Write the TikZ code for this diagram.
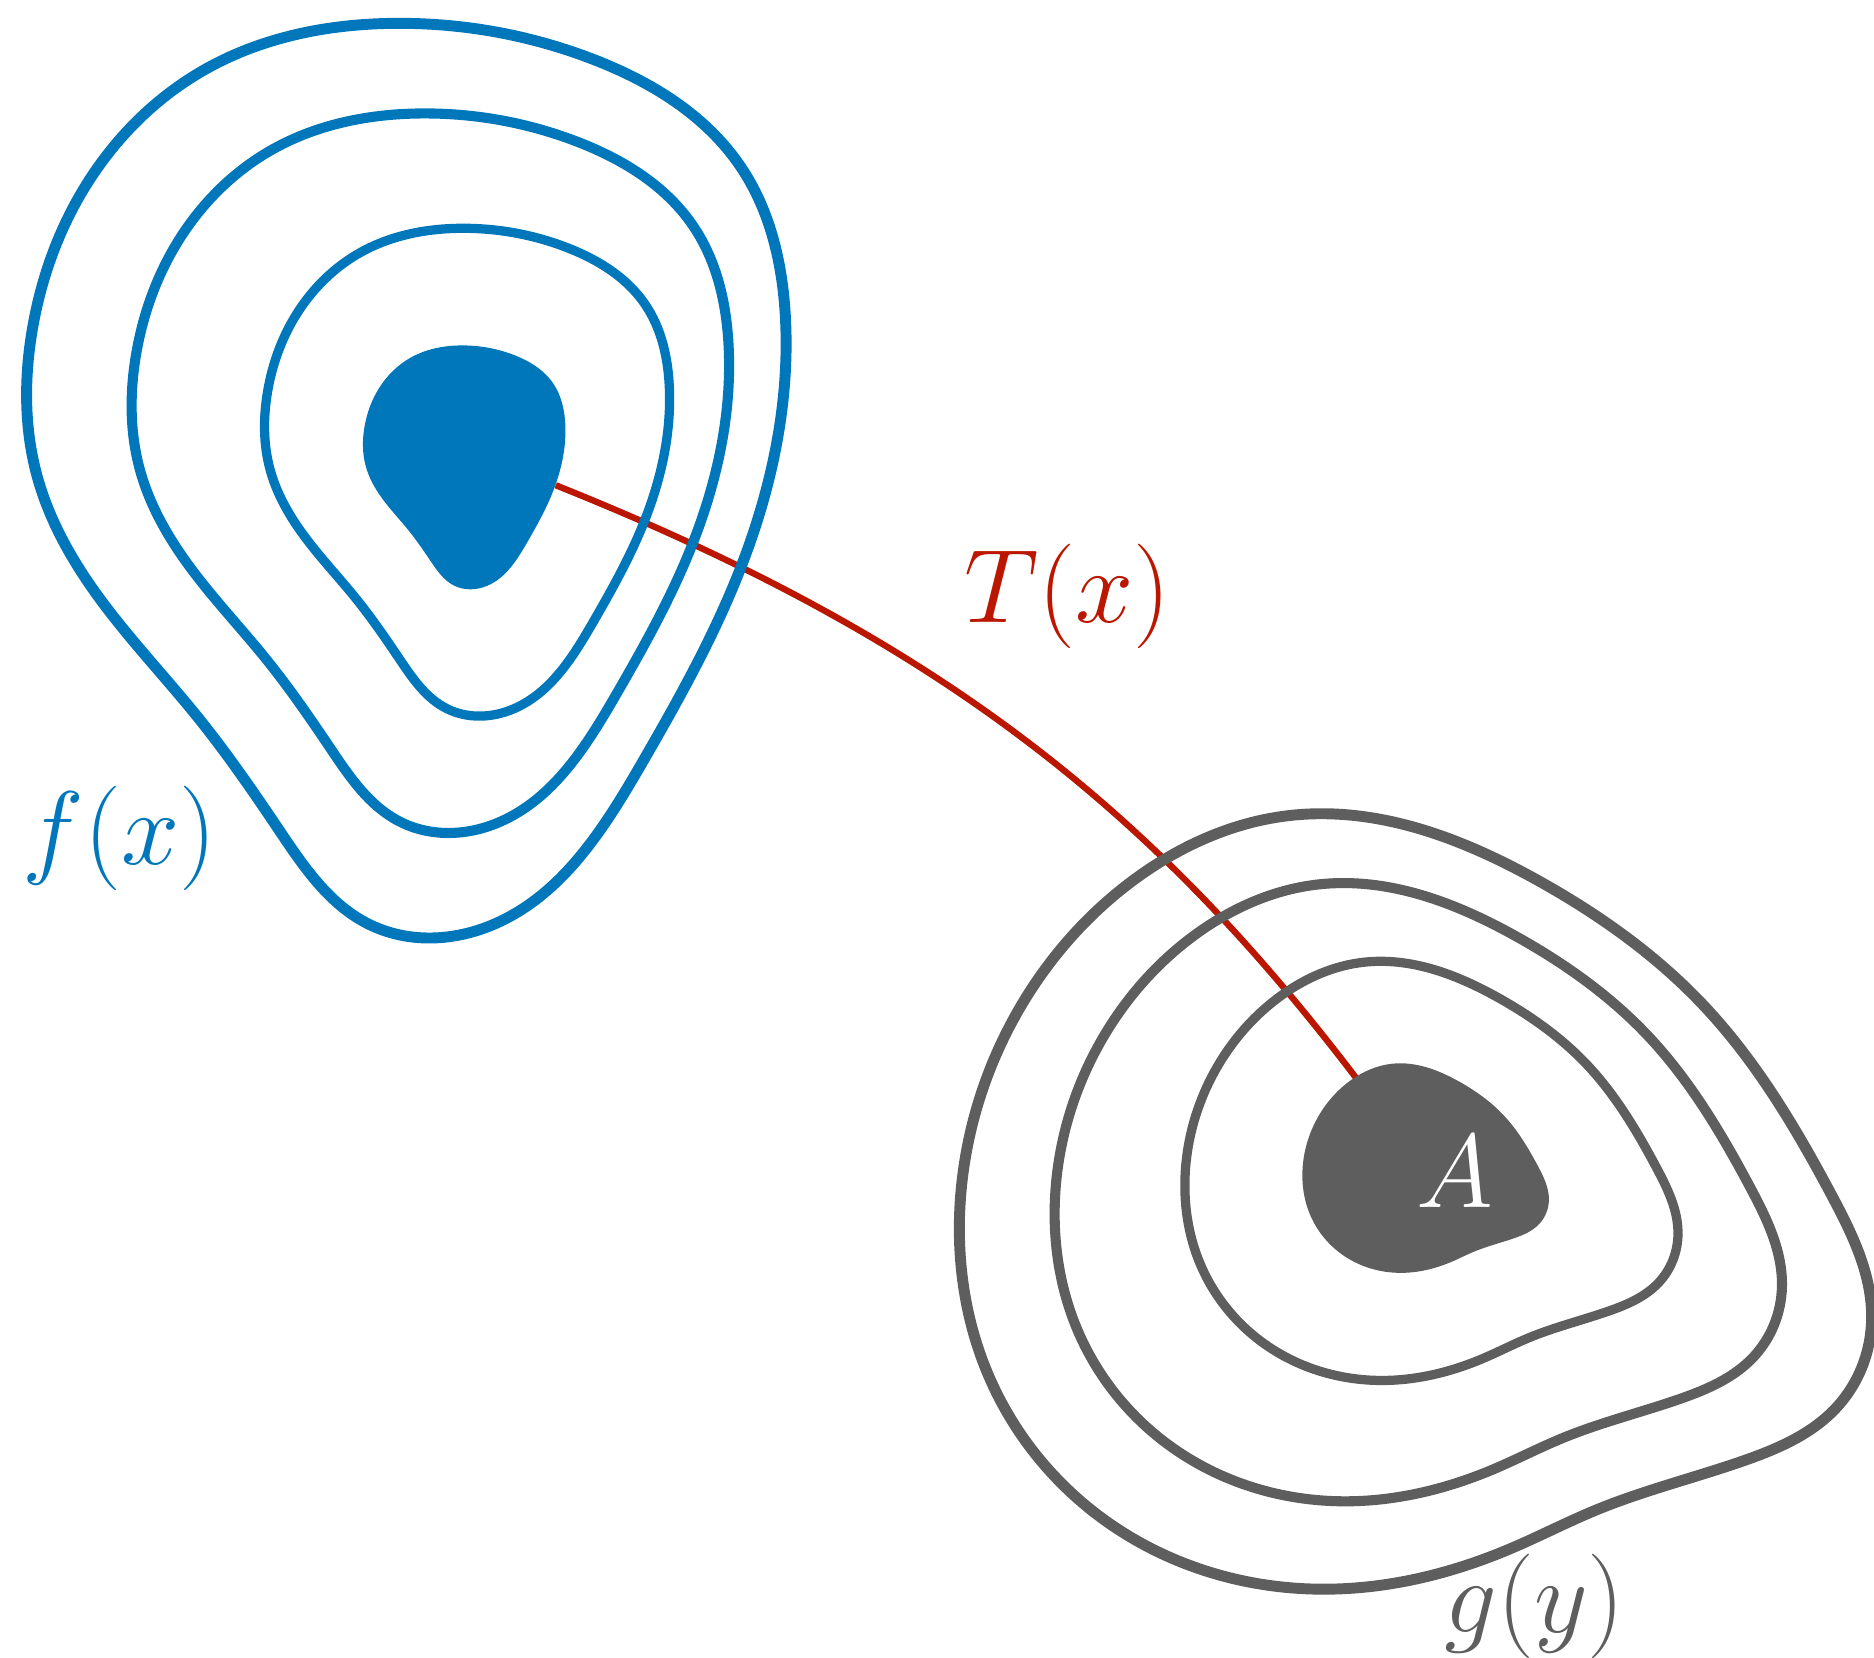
\documentclass[tikz,border=0pt]{standalone}
\usepackage{amsmath,amssymb}
\usepackage{tikz}
\usepackage{xcolor}
\usetikzlibrary{hobby}

\definecolor{fblue}{RGB}{0,118,187}
\definecolor{ggray}{RGB}{94,94,94}
\definecolor{tred}{RGB}{186,22,0}

\newcommand{\fshape}{(-19,-98) .. (-62,-88) .. (-89,-62) .. (-101,-30) .. (-100,3) .. (-87,29) .. (-64,57) .. (-46,82) .. (-26,103) .. (2,103) .. (35,67) .. (56,26) .. (67,-32) .. (57,-66) .. (24,-90)}
\newcommand{\gshape}{(-31,-77) .. (-66,-63) .. (-94,-31) .. (-106,9) .. (-100,49) .. (-74,82) .. (-26,98) .. (18,89) .. (38,80) .. (71,69) .. (92,57) .. (100,37) .. (91,9) .. (62,-34) .. (25,-62)}

\begin{document}
\begin{tikzpicture}[x=0.01cm,y=-0.01cm,font=\fontsize{24}{29}\selectfont,
  level/.style={use Hobby shortcut,closed=true}]
\useasboundingbox (0,0) rectangle (1568,1387);

\coordinate (fc) at (406,387);
\coordinate (gc) at (1196,967);
\coordinate (Tstart) at (465,406);
\coordinate (Tend) at (1137,905);

% transport map
\draw[tred,line width=1.5pt] (Tstart) .. controls (790,536) and (967,681) .. (Tend);

% source density
\begin{scope}[shift={(fc)}]
\fill[fblue,level] \fshape;
\foreach \s/\dx/\dy/\w in {2/20/0/2.2,2.95/6/-3/2.4,3.75/0/0/2.6}
  \draw[fblue,level,line width=\w pt,shift={(\dx,\dy)},scale=\s] \fshape;
\end{scope}

% target density
\begin{scope}[shift={(gc)}]
\fill[ggray,level] \gshape;
\foreach \s/\dx/\dy/\w in {2/8/-8/2.2,2.95/0/0/2.4,3.7/0/0/2.6}
  \draw[ggray,level,line width=\w pt,shift={(\dx,\dy)},scale=\s] \gshape;
\end{scope}

\node[text=fblue,anchor=base] (flabel) at (100,723) {$f(x)$};
\node[text=tred,anchor=base] (Tlabel) at (893,521) {$T(x)$};
\node[text=ggray,anchor=base] (glabel) at (1284,1366) {$g(y)$};
\node[text=white,anchor=base] (Alabel) at (1217,1010) {$A$};
\end{tikzpicture}
\end{document}
